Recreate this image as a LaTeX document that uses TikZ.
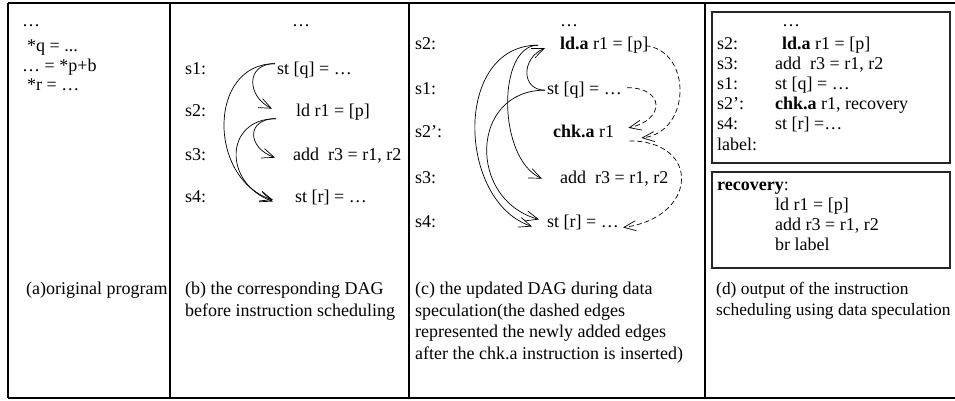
\documentclass[tikz,border=0pt]{standalone}
\usepackage{fontspec}
\setmainfont{Liberation Serif}
\usetikzlibrary{arrows.meta}

\tikzset{
  instr/.style={anchor=base west, inner sep=0pt},
  caption/.style={anchor=north west, align=left, inner sep=0pt},
  dep/.style={-{Straight Barb[length=12pt,width=10pt]}, line width=0.7pt},
  newdep/.style={dep, dash pattern=on 5pt off 3pt},
  rule/.style={line width=1.1pt},
  codebox/.style={draw=black!85, line width=1.2pt}
}

\begin{document}
\begin{tikzpicture}[x=1pt,y=1pt,font=\fontsize{18}{21.5}\selectfont]
    \useasboundingbox (0,0) rectangle (955,-401);

    % Panel (a): the original program
    \begin{scope}
    \clip (8,-3) rectangle (170,-398);
    \node[instr] (adots) at (22,-27) {…};
    \node[instr] (aq) at (27,-52) {*q = ...};
    \node[instr] (ap) at (22,-72) {… = *p+b};
    \node[instr] (ar) at (27,-91) {*r = …};
    \node[caption] (acap) at (26,-282) {(a)original program};
    \end{scope}

    % Panel (b): DAG before scheduling
    \node[instr] (bdots) at (292,-27) {…};
    \node[instr] (bs1) at (185,-75) {s1:};
    \node[instr] (bq) at (277,-75) {st [q] = …};
    \node[instr] (bs2) at (185,-117) {s2:};
    \node[instr] (bld) at (296,-117) {ld r1 = [p]};
    \node[instr] (bs3) at (185,-160) {s3:};
    \node[instr] (badd) at (293,-160) {add~ r3 = r1, r2};
    \node[instr] (bs4) at (185,-202) {s4:};
    \node[instr] (br) at (295,-202) {st [r] = …};
    \node[caption] (bcap) at (185,-282) {(b) the corresponding DAG\\before instruction scheduling};

    \draw[dep] ([shift={(-2,7)}]bq.west) .. controls +(-30,0) and +(-25,12) .. ([shift={(-24,4)}]bld.west);
    \draw[dep] ([shift={(-2,7)}]bq.west) .. controls +(-68,0) and +(-65,20) .. ([shift={(-22,-3)}]br.west);
    \draw[dep] ([shift={(-20,-6)}]bld.west) .. controls +(-30,0) and +(-28,10) .. ([shift={(-18,-2.5)}]badd.west);
    \draw[dep] ([shift={(-20,-6)}]bld.west) .. controls +(-52,0) and +(-50,18) .. ([shift={(-22,-4.5)}]br.west);

    % Panel (c): DAG during data speculation
    \node[instr] (cdots) at (560,-27) {…};
    \node[instr] (cs2) at (415,-50) {s2:};
    \node[instr] (cld) at (560,-50) {\textbf{ld.a} r1 = [p]};
    \node[instr] (cs1) at (415,-95) {s1:};
    \node[instr] (cq) at (547,-95) {st [q] = …};
    \node[instr] (cs2b) at (415,-138) {s2’:};
    \node[instr] (cchk) at (553,-138) {\textbf{chk.a} r1};
    \node[instr] (cs3) at (415,-183) {s3:};
    \node[instr] (cadd) at (560,-183) {add~ r3 = r1, r2};
    \node[instr] (cs4) at (415,-227) {s4:};
    \node[instr] (cr) at (547,-227) {st [r] = …};
    \node[caption] (ccap) at (415,-282) {(c) the updated DAG during data\\speculation(the dashed edges\\represented the newly added edges\\after the chk.a instruction is inserted)};

    \draw[dep] ([shift={(-2,0.5)}]cq.west) .. controls +(-24,0) and +(-24,-10) .. ([shift={(-15,-2.5)}]cld.west);
    \draw[dep] ([shift={(-22,0.5)}]cld.west) .. controls +(-41,0) and +(-45,20) .. ([shift={(-18,-0.5)}]cadd.west);
    \draw[dep] ([shift={(-22,0.5)}]cld.west) .. controls +(-85,0) and +(-75,25) .. ([shift={(-15,-4.5)}]cr.west);
    \draw[dep] ([shift={(-2,0.5)}]cq.west) .. controls +(-75,0) and +(-72,20) .. ([shift={(-8,2.5)}]cr.west);

    % the newly added (dashed) edges
    \draw[newdep] ([xshift=-3]cld.east) .. controls +(47,-5) and +(50,5) .. ([shift={(27,-6)}]cchk.east);
    \draw[newdep] ([shift={(5,3)}]cq.east) .. controls +(38,0) and +(37,8) .. ([shift={(14,4)}]cchk.east);
    \draw[newdep] ([shift={(15,-9)}]cchk.east) .. controls +(72,0) and +(75,10) .. ([shift={(4,-5.5)}]cr.east);

    % Panel (d): scheduled code and recovery block
    \draw[codebox] (712,-12) rectangle (950,-163);
    \node[instr] (ddots) at (782,-27) {…};
    \node[instr] (ds2) at (717,-50) {s2:};
    \node[instr] (dld) at (782,-50) {\textbf{ld.a} r1 = [p]};
    \node[instr] (ds3) at (717,-70) {s3:};
    \node[instr] (dadd) at (775,-70) {add~ r3 = r1, r2};
    \node[instr] (ds1) at (717,-90) {s1:};
    \node[instr] (dq) at (775,-90) {st [q] = …};
    \node[instr] (ds2b) at (717,-110) {s2’:};
    \node[instr] (dchk) at (775,-110) {\textbf{chk.a} r1, recovery};
    \node[instr] (ds4) at (717,-130) {s4:};
    \node[instr] (dr) at (775,-130) {st [r] =…};
    \node[instr] (dlabel) at (717,-150) {label:};

    \draw[codebox] (712,-172) rectangle (950,-268);
    \node[instr] (rec) at (717,-190) {\textbf{recovery}:};
    \node[instr] (rld) at (775,-210) {ld r1 = [p]};
    \node[instr] (radd) at (775,-230) {add r3 = r1, r2};
    \node[instr] (rbr) at (775,-250) {br label};
    \node[caption, font=\fontsize{17.4}{21.5}\selectfont] (dcap) at (716,-282) {(d) output of the instruction\\scheduling using data speculation};

    % Draw the table frame
    \draw[rule] (8,-3) -- (955,-3);
    \draw[rule] (8,-398) -- (955,-398);
    \draw[rule] (8,-3) -- (8,-398);
    \draw[rule] (170,-3) -- (170,-398);
    \draw[rule] (409,-3) -- (409,-398);
    \draw[rule] (705,-3) -- (705,-398);
\end{tikzpicture}
\end{document}
